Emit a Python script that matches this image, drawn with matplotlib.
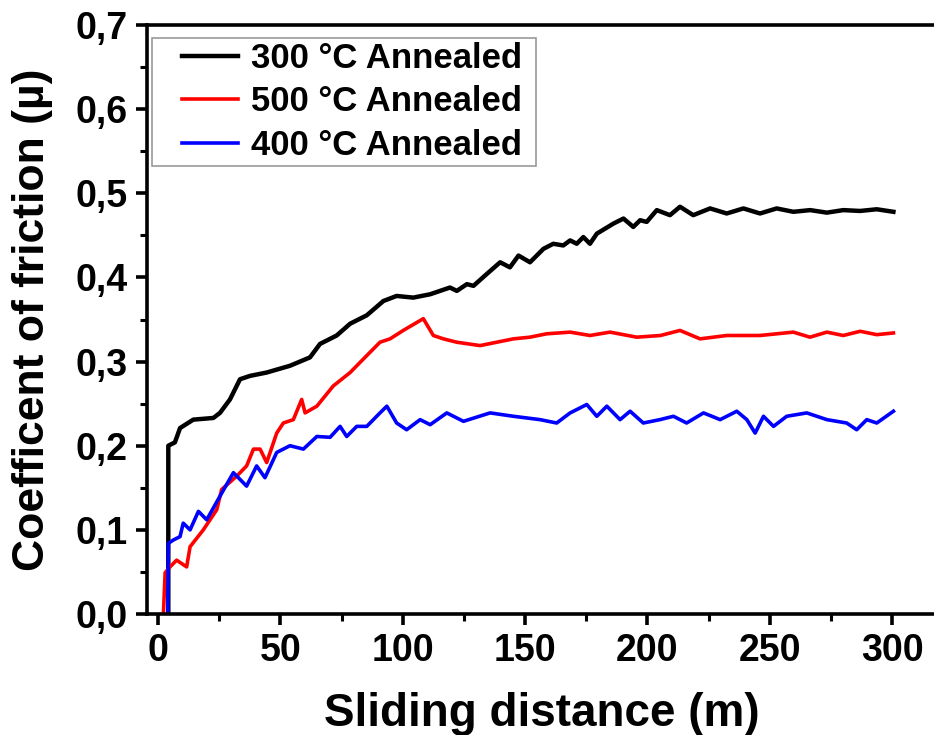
import matplotlib
matplotlib.use("Agg")
import matplotlib.pyplot as plt
from matplotlib.ticker import MultipleLocator, FuncFormatter
from matplotlib.legend_handler import HandlerLine2D

plt.rcParams['font.family'] = ['Liberation Sans', 'DejaVu Sans']
plt.rcParams['font.weight'] = 'bold'

# 300 C annealed (black)
x_300 = [4.2, 4.2, 6.9, 9.0, 14.4, 22.6, 25.3, 29.4, 33.5, 37.6, 44.4, 53.9, 62.1, 66.2,
         73.0, 78.5, 85.3, 92.1, 97.5, 104.3, 111.2, 119.3, 122.1, 126.2, 128.9, 134.3,
         139.8, 143.8, 147.3, 152.0, 157.5, 161.5, 165.6, 168.4, 171.1, 173.8, 176.5,
         179.3, 186.1, 190.2, 194.2, 197.0, 199.7, 203.8, 209.2, 213.3, 218.7, 225.6,
         232.4, 239.2, 246.0, 252.8, 259.6, 266.5, 273.3, 280.0, 286.9, 293.7, 300.5]
y_300 = [0.0, 0.200, 0.204, 0.221, 0.231, 0.233, 0.239, 0.255, 0.279, 0.283, 0.287, 0.295,
         0.305, 0.321, 0.331, 0.345, 0.355, 0.372, 0.378, 0.376, 0.380, 0.388, 0.384,
         0.392, 0.390, 0.404, 0.418, 0.412, 0.426, 0.418, 0.434, 0.440, 0.438, 0.444,
         0.440, 0.448, 0.440, 0.452, 0.464, 0.470, 0.460, 0.468, 0.466, 0.480, 0.474,
         0.484, 0.474, 0.482, 0.476, 0.482, 0.476, 0.482, 0.478, 0.480, 0.477, 0.480,
         0.479, 0.481, 0.478]

# 500 C annealed (red)
x_500 = [2.2, 2.9, 4.9, 7.6, 11.7, 13.1, 18.5, 24.0, 26.0, 32.2, 36.2, 39.0, 41.7, 44.4,
         48.5, 51.2, 55.3, 58.7, 60.1, 64.9, 71.6, 78.5, 83.9, 90.7, 94.8, 100.2, 108.4,
         112.5, 116.6, 122.1, 131.6, 138.4, 145.2, 152.0, 158.8, 168.4, 176.5, 184.7,
         195.6, 205.3, 213.3, 221.5, 232.4, 246.0, 259.6, 266.4, 273.3, 280.0, 286.9,
         293.7, 300.5]
y_500 = [0.0, 0.049, 0.056, 0.064, 0.056, 0.080, 0.100, 0.124, 0.148, 0.164, 0.176, 0.196,
         0.196, 0.180, 0.215, 0.227, 0.231, 0.255, 0.239, 0.247, 0.271, 0.287, 0.303,
         0.323, 0.327, 0.337, 0.351, 0.331, 0.327, 0.323, 0.319, 0.323, 0.327, 0.329,
         0.333, 0.335, 0.331, 0.335, 0.329, 0.331, 0.337, 0.327, 0.331, 0.331, 0.335,
         0.329, 0.335, 0.331, 0.336, 0.332, 0.334]

# 400 C annealed (blue)
x_400 = [4.0, 4.2, 6.3, 9.0, 10.3, 13.1, 16.5, 19.9, 25.3, 30.8, 36.2, 40.3, 43.7, 48.5,
         53.9, 59.4, 64.9, 70.3, 74.4, 77.1, 81.2, 85.3, 90.7, 93.5, 97.5, 101.6, 107.1,
         111.2, 118.0, 124.8, 135.7, 145.2, 156.1, 162.9, 168.4, 175.2, 179.3, 183.4,
         188.8, 192.9, 198.3, 205.1, 210.6, 216.0, 222.9, 229.7, 236.5, 240.6, 244.0,
         247.4, 251.5, 256.9, 265.1, 273.3, 281.4, 285.5, 289.6, 293.7, 300.5]
y_400 = [0.0, 0.084, 0.088, 0.092, 0.108, 0.100, 0.122, 0.112, 0.140, 0.168, 0.152, 0.176,
         0.162, 0.192, 0.200, 0.196, 0.211, 0.210, 0.223, 0.211, 0.223, 0.223, 0.239,
         0.247, 0.227, 0.219, 0.231, 0.225, 0.239, 0.229, 0.239, 0.235, 0.231, 0.227,
         0.239, 0.249, 0.235, 0.247, 0.231, 0.241, 0.227, 0.231, 0.235, 0.227, 0.239,
         0.231, 0.241, 0.231, 0.215, 0.235, 0.223, 0.235, 0.239, 0.231, 0.227, 0.219,
         0.231, 0.227, 0.241]

fig = plt.figure(figsize=(9.34, 7.35), dpi=100)
ax = fig.add_axes([0.1574, 0.1646, 0.845, 0.8014])

l1, = ax.plot(x_300, y_300, color='black', lw=3.2, label='300 °C Annealed ')
l2, = ax.plot(x_500, y_500, color='#ff0000', lw=2.6, label='500 °C Annealed ')
l3, = ax.plot(x_400, y_400, color='#0000ff', lw=2.6, label='400 °C Annealed ')

ax.set_xlim(-4.5, 318)
ax.set_ylim(0, 0.7)
ax.xaxis.set_major_locator(MultipleLocator(50))
ax.xaxis.set_minor_locator(MultipleLocator(25))
ax.yaxis.set_major_locator(MultipleLocator(0.1))
ax.yaxis.set_minor_locator(MultipleLocator(0.05))
ax.yaxis.set_major_formatter(FuncFormatter(lambda v, p: f"{v:.1f}".replace('.', ',')))

for s in ['left', 'bottom', 'top']:
    ax.spines[s].set_linewidth(2.6)
ax.spines['right'].set_visible(False)
ax.tick_params(which='major', direction='out', length=8, width=2.6, labelsize=27, pad=6)
ax.tick_params(which='minor', direction='out', length=5, width=2.2)
ax.tick_params(top=False, right=False)

ax.set_xlabel('Sliding distance (m)', fontsize=33, fontweight='bold', labelpad=16)
ax.set_ylabel('Coefficent of friction (µ)', fontsize=32, fontweight='bold', labelpad=16)

# legend handles shifted right inside the box, like the original
pad_handler = HandlerLine2D(xpad=0.75)
leg = ax.legend(handles=[l1, l2, l3], loc='upper left', bbox_to_anchor=(0.0, 0.987),
                borderaxespad=0.15, fontsize=25, handlelength=2.35, handletextpad=0.37,
                labelspacing=0.3, borderpad=0.12, fancybox=False, framealpha=1,
                handler_map={l1: pad_handler, l2: pad_handler, l3: pad_handler})
leg.get_frame().set_edgecolor('#999999')
leg.get_frame().set_linewidth(1.2)

fig.savefig('out.png', dpi=100)
